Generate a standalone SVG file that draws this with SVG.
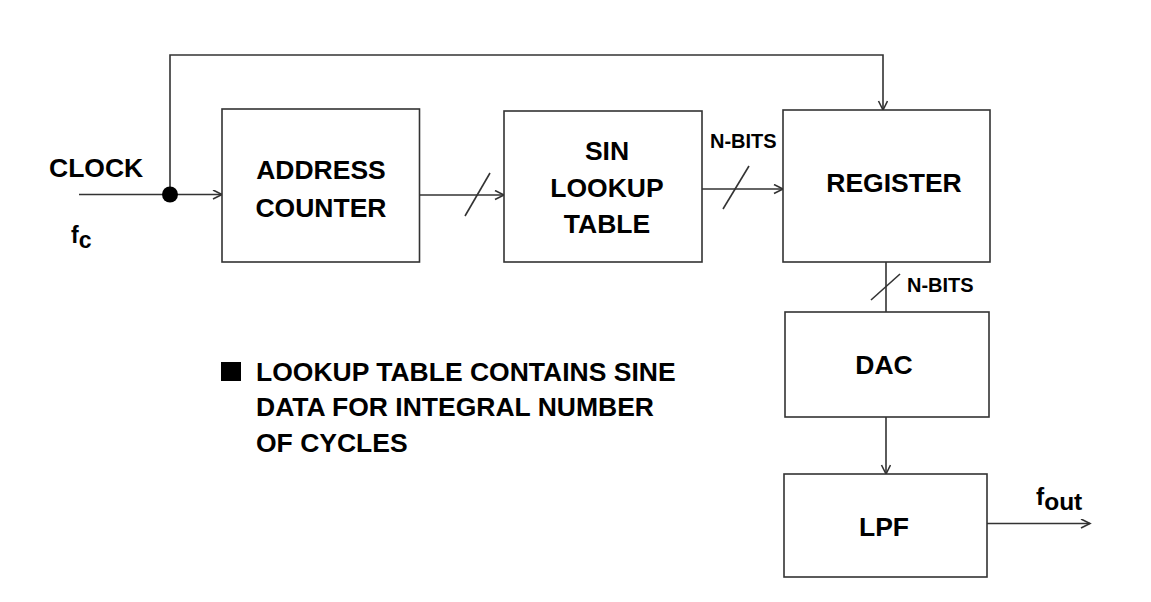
<svg xmlns="http://www.w3.org/2000/svg" width="1151" height="602" viewBox="0 0 1151 602">
  <style>
    .box { fill: #ffffff; stroke: #333333; stroke-width: 1.6; }
    .wire { fill: none; stroke: #333333; stroke-width: 1.6; }
    .lbl { font-family: "Liberation Sans", Arial, sans-serif; font-weight: bold; font-size: 26.5px; fill: #000000; }
    .mid { text-anchor: middle; }
    .small { font-size: 20px; }
  </style>
  <defs>
    <marker id="arrow" markerWidth="12" markerHeight="12" refX="10" refY="5" orient="auto" markerUnits="userSpaceOnUse">
      <path d="M1,0.5 L10,5 L1,9.5" fill="none" stroke="#333333" stroke-width="1.6"/>
    </marker>
  </defs>
  <rect x="0" y="0" width="1151" height="602" fill="#ffffff"/>

  <!-- signal connections -->
  <g id="connectors">
    <line class="wire" x1="79" y1="194.5" x2="222" y2="194.5" marker-end="url(#arrow)"/>
    <polyline class="wire" points="170,194.5 170,55 883,55 883,110" marker-end="url(#arrow)"/>
    <line class="wire" x1="419.5" y1="195" x2="504" y2="195" marker-end="url(#arrow)"/>
    <line class="wire" x1="465" y1="216" x2="490" y2="173"/>
    <line class="wire" x1="702" y1="189" x2="783" y2="189" marker-end="url(#arrow)"/>
    <line class="wire" x1="723" y1="209" x2="749" y2="166"/>
    <line class="wire" x1="886" y1="262" x2="886" y2="312"/>
    <line class="wire" x1="871" y1="300" x2="900" y2="274"/>
    <line class="wire" x1="886" y1="417" x2="886" y2="474" marker-end="url(#arrow)"/>
    <line class="wire" x1="987" y1="523.5" x2="1090" y2="523.5" marker-end="url(#arrow)"/>
    <circle cx="170" cy="194.5" r="8" fill="#000000"/>
  </g>

  <!-- clock input -->
  <g id="clock">
    <text class="lbl" x="49" y="177">CLOCK</text>
    <text class="lbl" x="71" y="243" style="font-size:23px">f<tspan dy="5">c</tspan></text>
  </g>

  <g id="address-counter">
    <rect class="box" x="222" y="109" width="197.5" height="153"/>
    <text class="lbl mid" x="321" y="179">ADDRESS</text>
    <text class="lbl mid" x="321" y="216.5">COUNTER</text>
  </g>

  <g id="sin-lookup">
    <rect class="box" x="504" y="111" width="198" height="151"/>
    <text class="lbl mid" x="607" y="160">SIN</text>
    <text class="lbl mid" x="607" y="196.5">LOOKUP</text>
    <text class="lbl mid" x="607" y="232.5">TABLE</text>
  </g>

  <g id="nbits-1">
    <text class="lbl small" x="710" y="148">N-BITS</text>
  </g>

  <g id="register">
    <rect class="box" x="783" y="110" width="207" height="152"/>
    <text class="lbl mid" x="894" y="191.5">REGISTER</text>
  </g>

  <g id="nbits-2">
    <text class="lbl small" x="907" y="291.5">N-BITS</text>
  </g>

  <g id="dac">
    <rect class="box" x="785" y="312" width="204" height="105"/>
    <text class="lbl mid" x="884" y="374">DAC</text>
  </g>

  <g id="lpf">
    <rect class="box" x="784" y="474" width="203" height="103"/>
    <text class="lbl mid" x="884" y="536">LPF</text>
  </g>

  <g id="output">
    <text class="lbl" x="1036" y="504.5" style="font-size:24.5px">f<tspan dy="5">out</tspan></text>
  </g>

  <g id="note">
    <rect x="221" y="362" width="20" height="19" fill="#000000"/>
    <text class="lbl" x="256" y="380.5">LOOKUP TABLE CONTAINS SINE</text>
    <text class="lbl" x="256" y="416">DATA FOR INTEGRAL NUMBER</text>
    <text class="lbl" x="256" y="451.5">OF CYCLES</text>
  </g>
</svg>
